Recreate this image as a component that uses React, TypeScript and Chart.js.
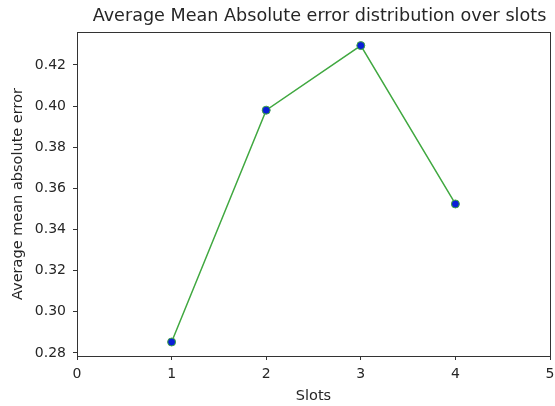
import React, { useEffect, useRef } from "react";
import { Chart, registerables } from "chart.js";

Chart.register(...registerables);

const slots = [1, 2, 3, 4];
const maeValues = [0.2853, 0.398, 0.4294, 0.3524];
const xTicks = [0, 1, 2, 3, 4, 5];
const yTicks = [0.28, 0.3, 0.32, 0.34, 0.36, 0.38, 0.4, 0.42];
const titleText = "Average Mean Absolute error distribution over slots";
const xTitle = "Slots";
const yTitle = "Average mean absolute error";

const FONT = "'DejaVu Sans', sans-serif";
const TEXT = "#262626";

export default function App() {
  const ref = useRef<HTMLCanvasElement | null>(null);

  useEffect(() => {
    document.body.style.margin = "0";
    if (!ref.current) return;

    const framePlugin = {
      id: "frame",
      afterDraw(chart: any) {
        const { ctx, chartArea } = chart;
        ctx.save();
        ctx.strokeStyle = "#333";
        ctx.lineWidth = 1;
        ctx.strokeRect(
          Math.round(chartArea.left) + 0.5,
          Math.round(chartArea.top) + 0.5,
          Math.round(chartArea.right - chartArea.left),
          Math.round(chartArea.bottom - chartArea.top)
        );
        ctx.fillStyle = TEXT;
        ctx.font = `17.6px ${FONT}`;
        ctx.textAlign = "center";
        ctx.textBaseline = "middle";
        ctx.fillText(titleText, (chartArea.left + chartArea.right) / 2 + 6, 16.5);
        ctx.restore();
      },
    };

    const chart = new Chart(ref.current, {
      type: "line",
      data: {
        datasets: [
          {
            data: slots.map((s, i) => ({ x: s, y: maeValues[i] })),
            borderColor: "#40a840",
            borderWidth: 1.5,
            backgroundColor: "#0a1fd6",
            pointBackgroundColor: "#0a1fd6",
            pointBorderColor: "#40a840",
            pointBorderWidth: 1,
            pointRadius: 4,
            tension: 0,
          },
        ],
      },
      options: {
        animation: false,
        responsive: false,
        devicePixelRatio: 1,
        layout: { padding: { left: 0, right: 4, top: 32, bottom: 0 } },
        plugins: {
          legend: { display: false },
          title: { display: false },
          tooltip: { enabled: false },
        },
        scales: {
          x: {
            type: "linear",
            min: 0,
            max: 5,
            afterBuildTicks: (axis: any) => {
              axis.ticks = xTicks.map((v) => ({ value: v }));
            },
            afterFit: (axis: any) => {
              axis.height = 50;
              axis.paddingLeft = 0;
              axis.paddingRight = 0;
            },
            grid: {
              display: true,
              drawOnChartArea: false,
              drawTicks: true,
              tickLength: 4,
              color: "#333",
            },
            border: { display: true, color: "#333" },
            ticks: {
              color: TEXT,
              font: { family: FONT, size: 14 },
              padding: 6,
              maxRotation: 0,
            },
            title: {
              display: true,
              text: xTitle,
              color: TEXT,
              font: { family: FONT, size: 14.5 },
              padding: { top: 0, bottom: 1 },
            },
          },
          y: {
            type: "linear",
            min: 0.2785,
            max: 0.436,
            afterBuildTicks: (axis: any) => {
              axis.ticks = yTicks.map((v) => ({ value: v }));
            },
            afterFit: (axis: any) => {
              axis.width = 77;
              axis.paddingTop = 0;
              axis.paddingBottom = 0;
            },
            grid: {
              display: true,
              drawOnChartArea: false,
              drawTicks: true,
              tickLength: 4,
              color: "#333",
            },
            border: { display: true, color: "#333" },
            ticks: {
              color: TEXT,
              font: { family: FONT, size: 14 },
              padding: 7,
              callback: (v: any) => Number(v).toFixed(2),
            },
            title: {
              display: true,
              text: yTitle,
              color: TEXT,
              font: { family: FONT, size: 14.5 },
              padding: { top: 10, bottom: 0 },
            },
          },
        },
      },
      plugins: [framePlugin],
    });

    return () => chart.destroy();
  }, []);

  return (
    <div style={{ width: 555, height: 406 }}>
      <canvas ref={ref} width={555} height={406} style={{ display: "block" }} />
    </div>
  );
}
